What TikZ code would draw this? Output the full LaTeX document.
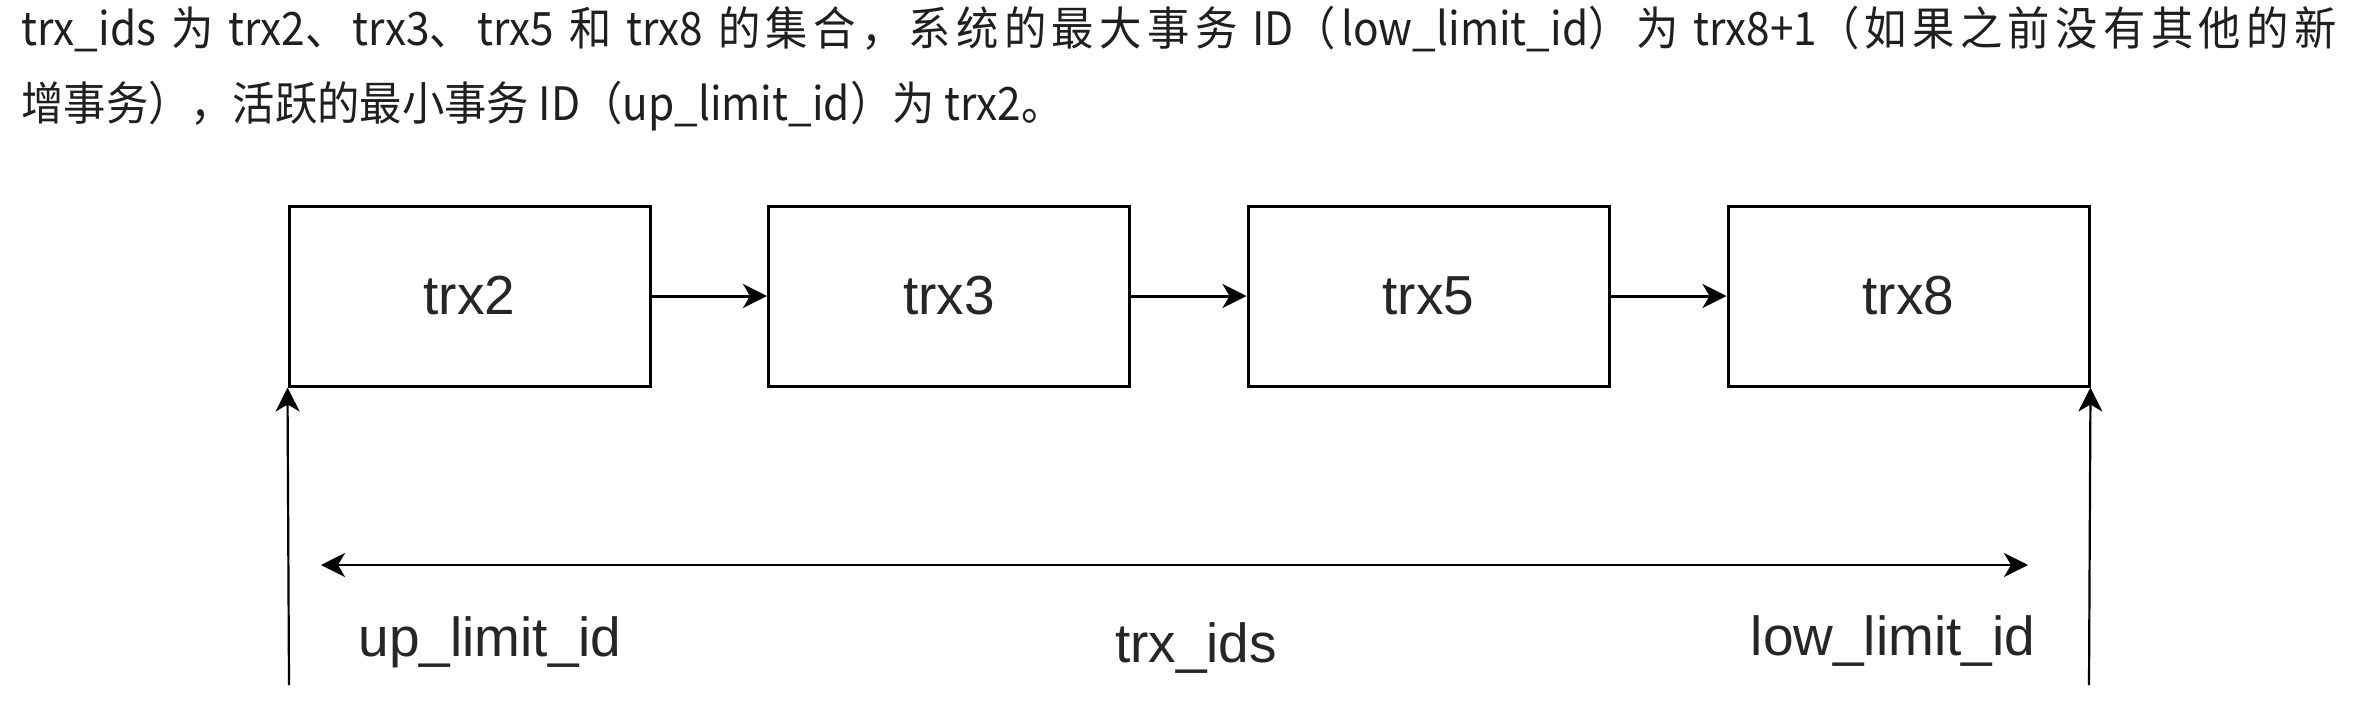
\documentclass[tikz,border=0pt]{standalone}
\usepackage{fontspec}
\setmainfont{Liberation Sans}
\newfontfamily\cjk[FakeStretch=0.92]{Noto Sans CJK SC}
\usetikzlibrary{arrows.meta}
\newcommand\jg{\hskip0pt plus 1fil\relax}
\begin{document}
\begin{tikzpicture}[x=0.5pt,y=-0.5pt,
  trxbox/.style={draw=black,line width=1.5pt,minimum width=180.5pt,minimum height=90pt,inner sep=0pt,font=\fontsize{27.5pt}{33pt}\selectfont,text=black!85},
  link/.style={draw=black,line width=1.5pt,-{Stealth[length=12pt,width=12pt,inset=3.5pt]}},
  uplink/.style={draw=black,line width=1.1pt,-{Stealth[length=12pt,width=12pt,inset=3.5pt]}},
  span/.style={draw=black,line width=1.4pt,{Stealth[length=12pt,width=12pt,inset=3.5pt]}-{Stealth[length=12pt,width=12pt,inset=3.5pt]}},
  lbl/.style={anchor=base,inner sep=0pt,font=\fontsize{27.5pt}{33pt}\selectfont,text=black!85},
  para/.style={anchor=base west,inner sep=0pt,font=\cjk\fontsize{23pt}{28pt}\selectfont,text=black!88}]
\fill[white] (0,0) rectangle (2358,702);
\useasboundingbox (0,0) rectangle (2358,702);

\node[para] (l1) at (21,45) {\makebox[1157.5pt][s]{trx\_ids\ \jg{}为\ \jg{}trx2、\jg{}trx3、\jg{}trx5\ \jg{}和\ \jg{}trx8\ \jg{}的\jg{}集\jg{}合\jg{}，\jg{}系\jg{}统\jg{}的\jg{}最\jg{}大\jg{}事\jg{}务\ \jg{}ID（\jg{}low\_limit\_id）\jg{}为\ \jg{}trx8+1（\jg{}如\jg{}果\jg{}之\jg{}前\jg{}没\jg{}有\jg{}其\jg{}他\jg{}的\jg{}新}};
\node[para] (l2) at (21,120) {增事务），活跃的最小事务 ID（up\_limit\_id）为 trx2。};

\node[trxbox] (t2) at (469.5,296) {trx2};
\node[trxbox] (t3) at (949,296) {trx3};
\node[trxbox] (t5) at (1428.5,296) {trx5};
\node[trxbox] (t8) at (1908.5,296) {trx8};

\draw[link] (t2) -- (t3);
\draw[link] (t3) -- (t5);
\draw[link] (t5) -- (t8);

\coordinate (ub) at (289,685);
\coordinate (lb) at (2089,685);
\draw[uplink] (ub) -- (t2.south west);
\draw[uplink] (lb) -- (t8.south east);

\coordinate (sa) at (321,565);
\coordinate (sb) at (2028,565);
\draw[span] (sa) -- (sb);

\node[lbl] (up) at (490,656) {up\_limit\_id};
\node[lbl] (ids) at (1196,662) {trx\_ids};
\node[lbl] (low) at (1893,655) {low\_limit\_id};
\end{tikzpicture}
\end{document}
